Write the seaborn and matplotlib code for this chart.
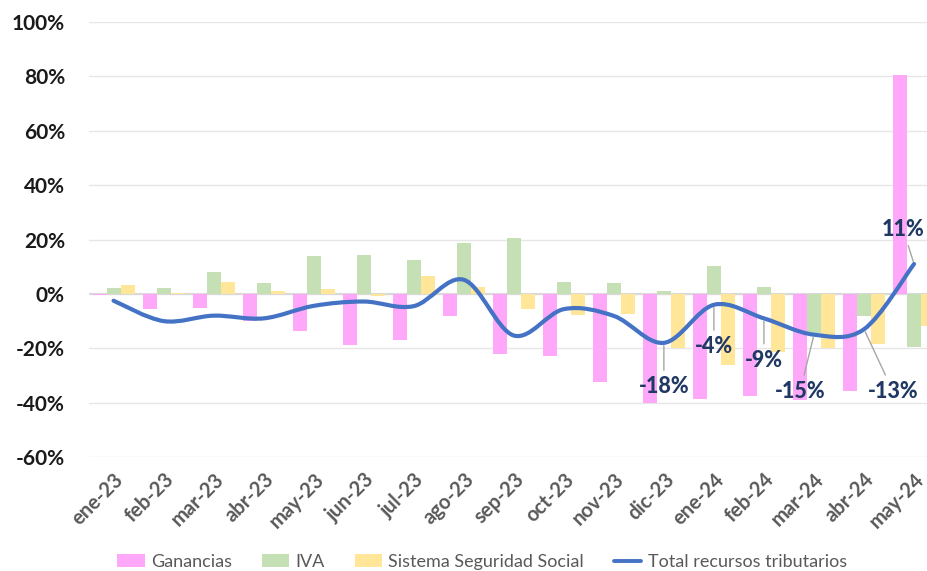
import numpy as np
import pandas as pd
import matplotlib
matplotlib.use('Agg')
import matplotlib.pyplot as plt
import matplotlib.transforms as mtransforms
from matplotlib.path import Path
from matplotlib.patches import PathPatch, Patch
from matplotlib.lines import Line2D
import seaborn as sns

# data (variacion % interanual)
meses = ['ene-23', 'feb-23', 'mar-23', 'abr-23', 'may-23', 'jun-23', 'jul-23', 'ago-23', 'sep-23',
         'oct-23', 'nov-23', 'dic-23', 'ene-24', 'feb-24', 'mar-24', 'abr-24', 'may-24']
ganancias = [-0.5, -5.5, -5, -10, -13.5, -18.8, -17, -8, -22, -23, -32.5, -40, -38.8, -37.6, -39, -35.7, 80.7]
iva = [2.2, 2, 8, 4, 14, 14.4, 12.5, 18.9, 20.5, 4.4, 4, 1, 10.4, 2.7, -14.5, -8.3, -19.6]
seg_social = [3.3, 0.5, 4.4, 1.1, 1.7, -0.6, 6.6, 2.6, -5.5, -7.9, -7.5, -20, -26, -21.5, -20, -18.5, -11.8]
total = [-2.5, -10, -8, -9, -4.4, -2.8, -4.5, 5.2, -15.3, -5.6, -8.1, -18, -4, -9, -15, -13, 11]
etiquetas = {11: '-18%', 12: '-4%', 13: '-9%', 14: '-15%', 15: '-13%', 16: '11%'}

series = ['Ganancias', 'IVA', 'Sistema Seguridad Social']
colores = {'Ganancias': '#FFA7F9', 'IVA': '#C5E0B4', 'Sistema Seguridad Social': '#FFE699'}
azul = '#4472C4'

df = pd.DataFrame({'mes': meses * 3,
                   'serie': np.repeat(series, len(meses)),
                   'valor': ganancias + iva + seg_social})

sns.set_style('white')
plt.rcParams['font.family'] = ['Lato', 'DejaVu Sans']

fig = plt.figure(figsize=(9.27, 5.71), dpi=100)
ax = fig.add_axes([0.0955, 0.1996, 0.9175, 0.7618])

sns.barplot(data=df, x='mes', y='valor', hue='serie', hue_order=series, palette=colores,
            width=0.84, saturation=1, linewidth=0, legend=False, ax=ax, zorder=2)

# smoothed line (Excel style) through the total points
xs = np.arange(len(total))
pts = np.column_stack([xs, total]).astype(float)
ext = np.vstack([pts[0], pts, pts[-1]])
verts = [tuple(pts[0])]
codes = [Path.MOVETO]
for i in range(len(pts) - 1):
    p0, p1, p2, p3 = ext[i], ext[i + 1], ext[i + 2], ext[i + 3]
    c1 = p1 + (p2 - p0) / 6
    c2 = p2 - (p3 - p1) / 6
    verts += [tuple(c1), tuple(c2), tuple(p2)]
    codes += [Path.CURVE4] * 3
ax.add_patch(PathPatch(Path(verts, codes), facecolor='none', edgecolor=azul, lw=3,
                       capstyle='round', zorder=4))

# data labels
offs = {11: (0, -44), 12: (0, -42), 13: (0, -42), 14: (-14, -57), 15: (29, -62), 16: (-11, 35)}
for i, txt in etiquetas.items():
    ax.annotate(txt, xy=(i, total[i]), xytext=offs[i], textcoords='offset pixels',
                ha='center', va='center', fontsize=15.5, fontweight='black', color='#1F3864',
                arrowprops=dict(arrowstyle='-', color='#A6A6A6', lw=1, shrinkA=2, shrinkB=2),
                zorder=5)

ax.set_xlim(-0.5, 16.5)
ax.set_ylim(-60, 100)
ax.set_yticks(np.arange(-60, 101, 20))
ax.set_yticklabels([f'{v}%' for v in range(-60, 101, 20)], fontsize=15, fontweight='bold', color='#1a1a1a')
ax.set_xticks(xs)
ax.set_xticklabels(meses, rotation=45, ha='right', rotation_mode='anchor',
                   fontsize=14.5, fontweight='bold', color='#595959')
shift = mtransforms.ScaledTranslation(-5 / 100, -8 / 100, fig.dpi_scale_trans)
for lab in ax.get_xticklabels():
    lab.set_transform(lab.get_transform() + shift)
ax.tick_params(axis='both', length=0)
ax.tick_params(axis='y', pad=17)
ax.tick_params(axis='x', pad=9)
ax.set_xlabel('')
ax.set_ylabel('')
for s in ax.spines.values():
    s.set_visible(False)
ax.yaxis.grid(True, color='#E6E6E6', lw=1)
ax.set_axisbelow(True)
ax.axhline(0, color='#D9D9D9', lw=1.5, zorder=1)

handles = [Patch(facecolor=colores[s], edgecolor='none') for s in series]
handles.append(Line2D([0], [0], color=azul, lw=2.8))
fig.legend(handles, series + ['Total recursos tributarios'], loc='center', ncol=4,
           bbox_to_anchor=(0.52, 0.016), frameon=False, fontsize=13, labelcolor='#595959',
           handlelength=1.5, handleheight=0.7, columnspacing=1.67, handletextpad=0.35)

fig.savefig('out.png', dpi=100)
